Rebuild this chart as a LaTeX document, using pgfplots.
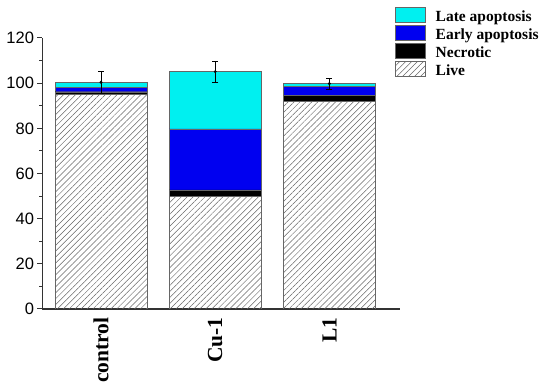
\documentclass[border=0pt]{standalone}
\usepackage{pgfplots}
\pgfplotsset{compat=1.18}
\usepackage{fontspec}
\setmainfont{Liberation Serif}
\newfontfamily\arial{Liberation Sans}
\usetikzlibrary{patterns.meta}
\begin{document}
\begin{tikzpicture}
\path[use as bounding box] (-42.5pt,-81pt) rectangle (507.5pt,309pt);
\begin{axis}[
  at={(0pt,0pt)}, anchor=south west,
  scale only axis, width=357.5pt, height=271pt,
  ybar stacked, bar width=0.807,
  xmin=-0.513, xmax=2.618, ymin=0, ymax=120,
  axis x line=bottom, axis y line=left,
  axis line style={-, black!80, line width=1.2pt},
  xtick={0,1,2}, xticklabels={control,Cu-1,L1},
  x tick label style={rotate=90, anchor=east, font=\bfseries\fontsize{21.5}{24}\selectfont},
  x tick style={draw=none},
  ytick={0,20,...,120}, minor y tick num=1,
  tick align=outside,
  y tick style={black!80, line width=1pt},
  minor y tick style={black!80, line width=1pt},
  major tick length=5pt, minor tick length=3pt,
  y tick label style={font=\arial\fontsize{16.5}{18}\selectfont},
  /pgf/number format/assume math mode=true,
  reverse legend,
  legend style={at={(0.986,1.114)}, anchor=north west, draw=none, fill=none,
    font=\bfseries\fontsize{15.5}{17.5}\selectfont, inner sep=0pt, row sep=0pt,
    /tikz/every odd column/.append style={column sep=8pt}},
  legend cell align=left,
  legend image code/.code={\draw[#1] (0pt,-5.5pt) rectangle (30pt,9.5pt);},
]
\addplot[draw=black!60, line width=0.5pt, pattern={Lines[angle=45,distance=4.2pt,line width=0.5pt]}, pattern color=black!60]
  coordinates {(0,95) (1,50) (2,92)};
\addplot[draw=black!60, fill=black] coordinates {(0,1.2) (1,2.8) (2,2.5)};
\addplot[draw=black!60, fill={rgb,255:red,0;green,0;blue,240}] coordinates {(0,2.0) (1,27.0) (2,4.0)};
\addplot[draw=black!60, fill={rgb,255:red,0;green,240;blue,240}] coordinates {(0,2.2) (1,25.3) (2,1.3)};
\legend{Live,Necrotic,Early apoptosis,Late apoptosis}
\end{axis}
\begin{axis}[
  at={(0pt,0pt)}, anchor=south west,
  scale only axis, width=357.5pt, height=271pt,
  xmin=-0.513, xmax=2.618, ymin=0, ymax=120,
  hide axis,
]
\addplot[black, only marks, mark=*, mark size=1.3pt,
  error bars/.cd, y dir=both, y explicit,
  error bar style={black, line width=0.6pt},
  error mark options={rotate=90, mark size=3pt, black, line width=0.6pt}]
  coordinates {(0,100.4) +- (0,5) (1,105.1) +- (0,4.5) (2,99.8) +- (0,2.5)};
\end{axis}
\end{tikzpicture}
\end{document}
